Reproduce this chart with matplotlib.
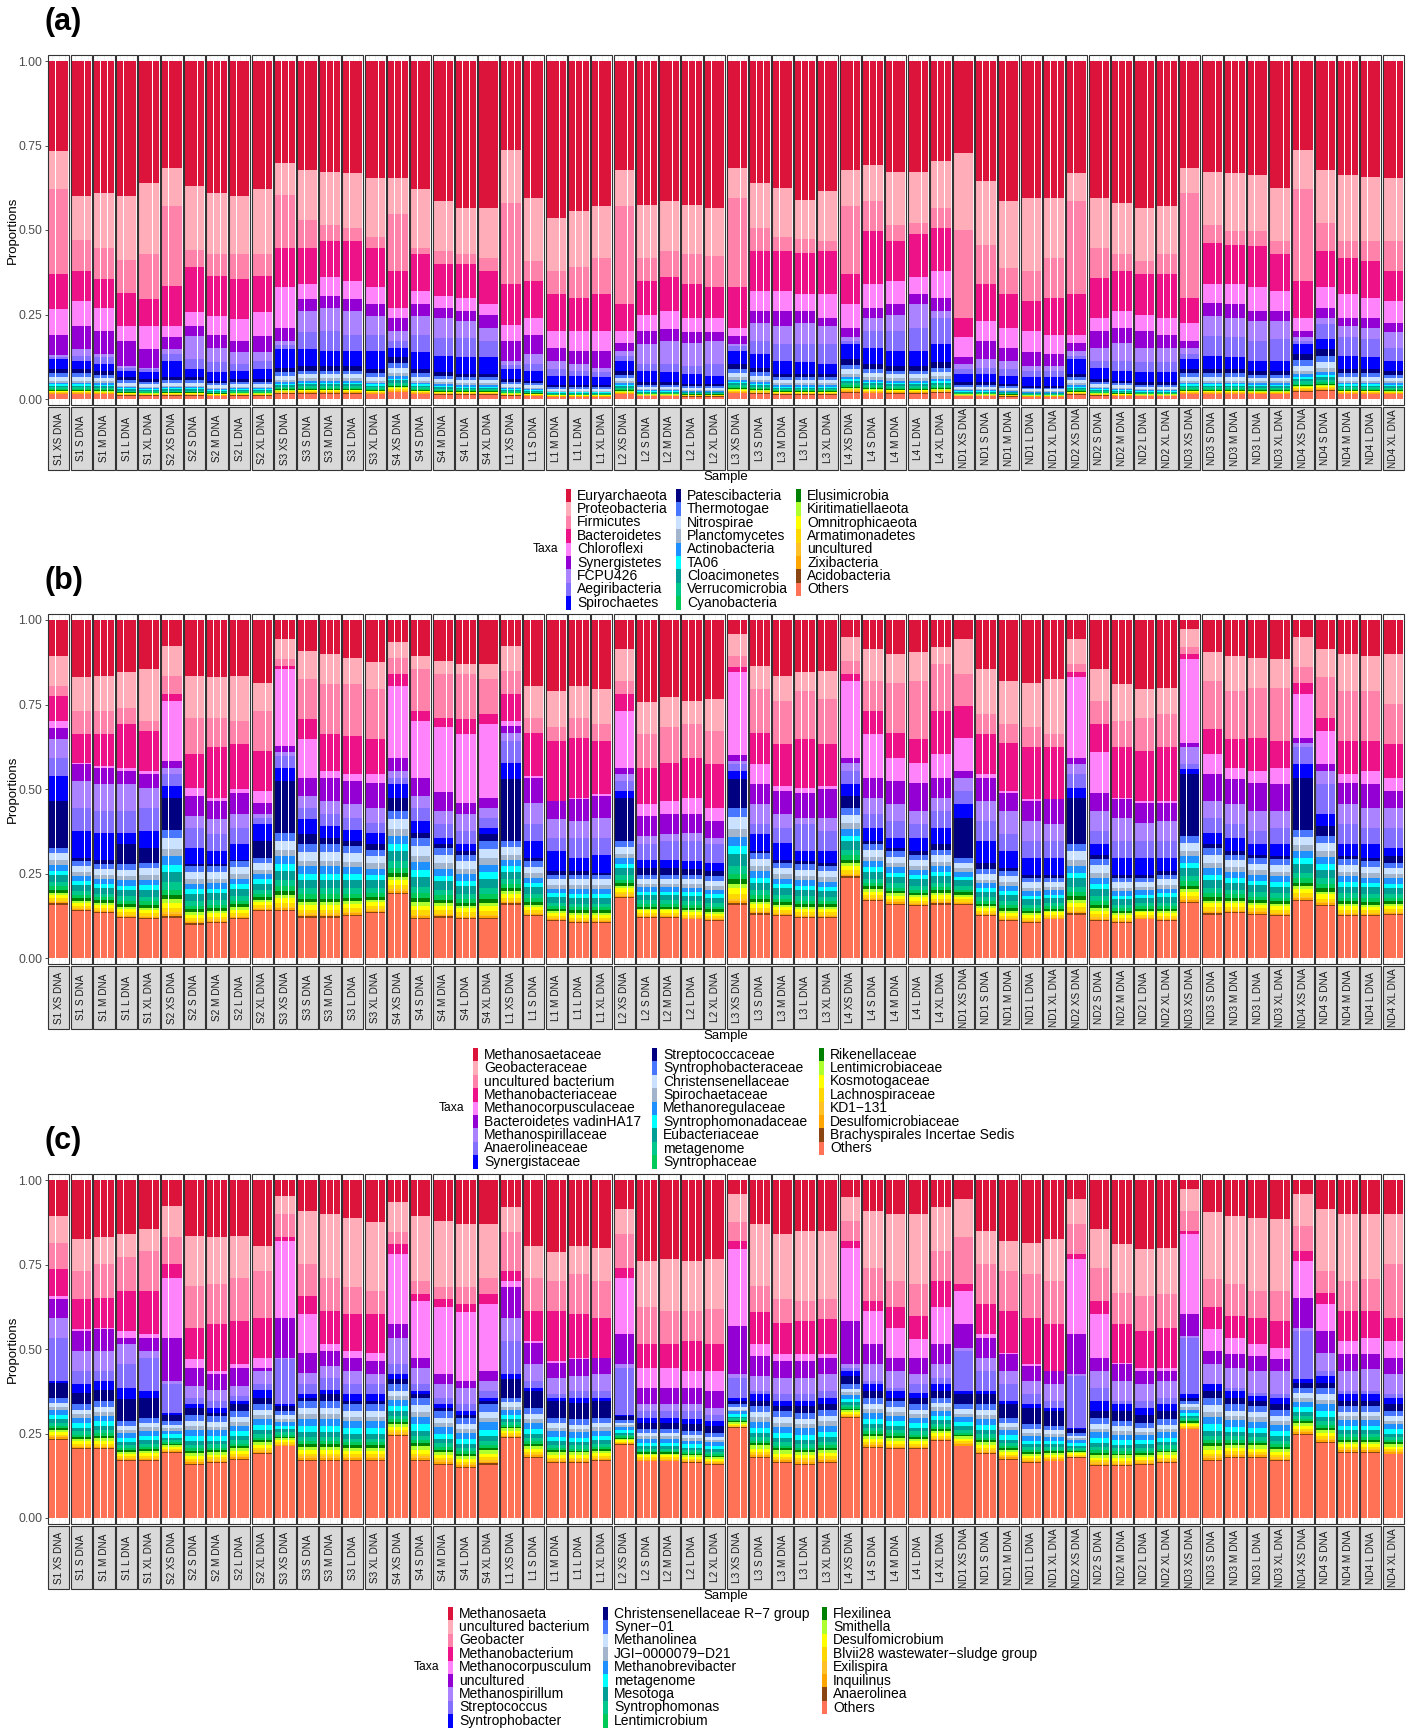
from __future__ import annotations

import matplotlib
import numpy as np
from matplotlib import pyplot as plt
from matplotlib.patches import Rectangle

matplotlib.use("Agg")
plt.rcParams["font.family"] = ["Liberation Sans", "DejaVu Sans"]

FIG_W, FIG_H = 1414, 1732

SITES = ["S1", "S2", "S3", "S4", "L1", "L2", "L3", "L4", "ND1", "ND2", "ND3", "ND4"]
SIZES = ["XS", "S", "M", "L", "XL"]
SAMPLES = [f"{site} {size} DNA" for site in SITES for size in SIZES]

TAXA_COLOURS = [
    "#DC143C", "#FFAEB9", "#FF82AB", "#EE1289", "#FF83FA", "#9400D3", "#AB82FF", "#8470FF", "#0000FF",
    "#000080", "#4876FF", "#CAE1FF", "#A2B5CD", "#1E90FF", "#00FFFF", "#009E94", "#00C78C", "#00C957",
    "#008000", "#ADFF2F", "#FFFF00", "#FFD700", "#FFC125", "#FFA500", "#8B4513", "#FF7256",
]

PHYLUM_TAXA = [
    "Euryarchaeota", "Proteobacteria", "Firmicutes", "Bacteroidetes", "Chloroflexi", "Synergistetes",
    "FCPU426", "Aegiribacteria", "Spirochaetes", "Patescibacteria", "Thermotogae", "Nitrospirae",
    "Planctomycetes", "Actinobacteria", "TA06", "Cloacimonetes", "Verrucomicrobia", "Cyanobacteria",
    "Elusimicrobia", "Kiritimatiellaeota", "Omnitrophicaeota", "Armatimonadetes", "uncultured",
    "Zixibacteria", "Acidobacteria", "Others",
]
FAMILY_TAXA = [
    "Methanosaetaceae", "Geobacteraceae", "uncultured bacterium", "Methanobacteriaceae",
    "Methanocorpusculaceae", "Bacteroidetes vadinHA17", "Methanospirillaceae", "Anaerolineaceae",
    "Synergistaceae", "Streptococcaceae", "Syntrophobacteraceae", "Christensenellaceae",
    "Spirochaetaceae", "Methanoregulaceae", "Syntrophomonadaceae", "Eubacteriaceae", "metagenome",
    "Syntrophaceae", "Rikenellaceae", "Lentimicrobiaceae", "Kosmotogaceae", "Lachnospiraceae",
    "KD1\u2212131", "Desulfomicrobiaceae", "Brachyspirales Incertae Sedis", "Others",
]
GENUS_TAXA = [
    "Methanosaeta", "uncultured bacterium", "Geobacter", "Methanobacterium", "Methanocorpusculum",
    "uncultured", "Methanospirillum", "Streptococcus", "Syntrophobacter",
    "Christensenellaceae R\u22127 group", "Syner\u221201", "Methanolinea", "JGI\u22120000079\u2212D21",
    "Methanobrevibacter", "metagenome", "Mesotoga", "Syntrophomonas", "Lentimicrobium", "Flexilinea",
    "Smithella", "Desulfomicrobium", "Blvii28 wastewater\u2212sludge group", "Exilispira", "Inquilinus",
    "Anaerolinea", "Others",
]

# Phylum level: share of the bar lying below each leading taxon (one value per sample)
phy_below_euryarchaeota = [
    .735, .600, .610, .600, .640, .683, .630, .610, .600, .620,
    .698, .678, .673, .670, .654, .654, .620, .585, .565, .565,
    .737, .595, .536, .556, .570, .678, .575, .585, .575, .565,
    .683, .640, .624, .590, .615, .678, .693, .673, .673, .703,
    .728, .644, .585, .595, .595, .668, .595, .580, .565, .570,
    .683, .673, .668, .663, .624, .737, .678, .663, .658, .654]
phy_below_proteobacteria = [
    .620, .470, .447, .410, .430, .570, .440, .430, .430, .430,
    .605, .530, .516, .506, .480, .546, .447, .437, .428, .418,
    .580, .408, .380, .390, .418, .570, .418, .437, .428, .423,
    .595, .506, .480, .472, .467, .570, .585, .516, .520, .565,
    .500, .457, .388, .378, .418, .585, .447, .428, .408, .428,
    .610, .516, .497, .497, .467, .620, .520, .467, .467, .467]
phy_below_firmicutes = [
    .370, .380, .354, .315, .295, .334, .390, .364, .354, .364,
    .447, .447, .467, .467, .447, .380, .428, .400, .398, .380,
    .340, .350, .310, .300, .310, .280, .350, .360, .340, .330,
    .330, .437, .437, .433, .437, .370, .497, .467, .487, .506,
    .240, .340, .310, .290, .300, .310, .359, .380, .369, .369,
    .300, .462, .457, .452, .428, .350, .437, .418, .408, .380]
phy_below_bacteroidetes = [
    .265, .290, .270, .216, .216, .216, .256, .246, .236, .256,
    .330, .340, .360, .350, .330, .270, .320, .305, .300, .280,
    .220, .240, .200, .200, .200, .200, .250, .260, .240, .240,
    .210, .320, .320, .310, .310, .280, .340, .350, .360, .380,
    .182, .230, .211, .200, .190, .190, .240, .260, .250, .240,
    .226, .340, .340, .330, .320, .240, .330, .310, .300, .290]
phy_below_chloroflexi = [
    .190, .215, .200, .172, .147, .182, .216, .190, .172, .187,
    .210, .295, .305, .295, .280, .240, .280, .270, .260, .250,
    .172, .190, .152, .143, .143, .167, .200, .206, .197, .197,
    .187, .260, .260, .260, .240, .210, .270, .280, .310, .300,
    .123, .172, .152, .138, .133, .167, .200, .211, .200, .190,
    .172, .285, .280, .260, .260, .200, .270, .240, .240, .226]
phy_below_synergistetes = [
    .130, .147, .133, .098, .093, .147, .187, .150, .138, .138,
    .172, .260, .270, .260, .246, .200, .246, .240, .230, .210,
    .113, .133, .113, .103, .093, .143, .162, .172, .167, .172,
    .162, .226, .216, .226, .216, .182, .240, .250, .280, .260,
    .103, .118, .113, .098, .098, .143, .152, .167, .152, .152,
    .152, .246, .240, .230, .230, .182, .240, .216, .211, .197]
phy_below_fcpu426 = [
    .125, .128, .123, .093, .088, .133, .118, .108, .103, .113,
    .160, .197, .200, .190, .190, .172, .190, .180, .180, .172,
    .100, .103, .088, .084, .079, .128, .103, .103, .098, .103,
    .157, .172, .162, .162, .162, .172, .200, .200, .210, .240,
    .088, .093, .088, .084, .084, .128, .113, .113, .108, .108,
    .133, .187, .182, .172, .177, .172, .221, .182, .177, .152]
phy_below_aegiribacteria = [
    .118, .113, .103, .084, .079, .113, .088, .079, .084, .088,
    .147, .147, .143, .143, .143, .152, .138, .128, .123, .123,
    .088, .084, .069, .069, .064, .113, .084, .079, .074, .069,
    .143, .133, .113, .108, .103, .162, .152, .143, .143, .162,
    .074, .074, .069, .064, .064, .118, .093, .084, .079, .079,
    .118, .128, .123, .113, .113, .162, .177, .128, .123, .113]
phy_below_spirochaetes = [
    .088, .088, .084, .064, .059, .064, .064, .054, .059, .059,
    .093, .098, .098, .098, .088, .123, .088, .079, .074, .074,
    .059, .054, .040, .040, .040, .084, .049, .049, .044, .044,
    .103, .093, .074, .074, .074, .118, .103, .098, .098, .108,
    .049, .049, .044, .039, .039, .074, .059, .054, .049, .049,
    .088, .088, .088, .084, .084, .133, .147, .088, .088, .084]
# split of the remaining low-abundance phyla (Patescibacteria ... Others)
phy_minor_share = [.14, .12, .12, .07, .06, .04, .06, .05, .03, .03, .02, .02, .02, .02, .02, .02, .16]

# Family level
fam_below_methanosaetaceae = [
    .894, .830, .835, .845, .855, .924, .835, .830, .835, .815,
    .944, .909, .899, .889, .875, .934, .894, .880, .870, .870,
    .924, .805, .790, .805, .795, .914, .756, .771, .761, .766,
    .958, .865, .835, .845, .850, .949, .914, .899, .904, .919,
    .944, .855, .820, .815, .825, .944, .855, .810, .795, .800,
    .973, .904, .894, .889, .884, .949, .914, .899, .894, .899]
fam_below_geobacteraceae = [
    .805, .731, .731, .741, .702, .835, .711, .711, .702, .731,
    .884, .825, .810, .810, .795, .889, .855, .840, .840, .825,
    .850, .711, .682, .711, .692, .820, .662, .682, .692, .672,
    .894, .795, .761, .790, .766, .879, .820, .815, .820, .870,
    .840, .721, .692, .682, .662, .870, .761, .702, .711, .721,
    .919, .820, .790, .800, .800, .860, .830, .790, .790, .751]
fam_below_uncultured_bacterium = [
    .776, .662, .662, .692, .672, .781, .603, .623, .632, .613,
    .865, .707, .662, .657, .647, .840, .731, .711, .707, .721,
    .781, .667, .642, .652, .642, .781, .563, .578, .593, .573,
    .860, .667, .632, .647, .632, .840, .731, .667, .647, .731,
    .746, .662, .637, .623, .623, .845, .692, .623, .613, .623,
    .900, .677, .647, .652, .642, .815, .711, .642, .642, .632]
fam_below_methanobacteriaceae = [
    .700, .578, .568, .563, .553, .761, .504, .474, .499, .494,
    .855, .647, .553, .543, .543, .805, .700, .682, .662, .692,
    .700, .539, .464, .474, .484, .731, .455, .464, .474, .445,
    .845, .573, .509, .504, .509, .820, .662, .593, .578, .603,
    .652, .543, .494, .469, .469, .830, .608, .474, .464, .464,
    .884, .603, .563, .553, .563, .780, .672, .543, .553, .534]
fam_below_methanocorpusculaceae = [
    .680, .573, .563, .553, .543, .583, .479, .464, .489, .460,
    .627, .534, .534, .524, .519, .593, .534, .490, .460, .474,
    .687, .534, .464, .469, .479, .563, .420, .425, .425, .405,
    .600, .514, .494, .489, .499, .593, .534, .524, .519, .534,
    .553, .534, .489, .464, .469, .593, .489, .469, .459, .459,
    .637, .543, .529, .519, .514, .652, .573, .519, .514, .494]
fam_below_vadinha17 = [
    .647, .524, .514, .514, .504, .563, .420, .410, .425, .425,
    .608, .479, .464, .455, .445, .553, .479, .435, .425, .445,
    .667, .460, .410, .405, .415, .544, .361, .366, .371, .356,
    .583, .455, .425, .415, .415, .578, .474, .455, .435, .474,
    .534, .464, .435, .405, .395, .573, .435, .415, .400, .405,
    .623, .464, .455, .435, .435, .637, .553, .455, .445, .445]
fam_below_methanospirillaceae = [
    .593, .445, .435, .435, .445, .544, .385, .366, .385, .415,
    .598, .445, .425, .415, .400, .534, .445, .395, .375, .415,
    .642, .395, .356, .356, .356, .524, .336, .346, .346, .336,
    .573, .395, .385, .395, .375, .553, .425, .405, .395, .435,
    .494, .405, .366, .346, .346, .544, .375, .346, .346, .346,
    .573, .415, .395, .375, .385, .623, .514, .395, .385, .385]
fam_below_anaerolineaceae = [
    .539, .375, .370, .370, .375, .509, .326, .316, .336, .395,
    .563, .410, .390, .380, .370, .514, .405, .356, .336, .385,
    .578, .346, .316, .296, .306, .494, .291, .291, .287, .282,
    .553, .366, .341, .316, .316, .514, .385, .356, .356, .385,
    .455, .346, .316, .296, .296, .504, .336, .296, .296, .296,
    .558, .371, .356, .336, .336, .573, .425, .336, .336, .326]
fam_below_synergistaceae = [
    .464, .296, .291, .336, .326, .474, .277, .277, .291, .346,
    .524, .366, .356, .346, .336, .474, .370, .336, .316, .366,
    .529, .296, .257, .257, .252, .474, .267, .267, .262, .257,
    .529, .316, .291, .287, .282, .479, .346, .326, .316, .336,
    .415, .282, .267, .247, .247, .474, .306, .247, .247, .257,
    .543, .336, .316, .306, .301, .534, .390, .301, .296, .301]
fam_below_streptococcaceae = [
    .326, .287, .277, .277, .282, .380, .272, .272, .287, .296,
    .370, .336, .336, .331, .321, .435, .356, .326, .306, .346,
    .346, .287, .247, .247, .247, .346, .247, .247, .247, .242,
    .445, .311, .282, .277, .272, .445, .336, .316, .306, .321,
    .296, .262, .257, .237, .237, .336, .292, .237, .237, .247,
    .361, .326, .306, .296, .292, .380, .361, .292, .287, .282]
fam_others = [
    .158, .138, .133, .119, .114, .119, .099, .104, .114, .138,
    .138, .119, .119, .124, .133, .188, .114, .119, .114, .114,
    .158, .124, .109, .104, .104, .178, .119, .119, .114, .109,
    .158, .128, .124, .119, .119, .237, .168, .158, .153, .158,
    .158, .124, .109, .104, .114, .128, .109, .104, .114, .109,
    .163, .128, .133, .128, .124, .168, .153, .124, .124, .128]
fam_minor_share = [.10, .12, .08, .10, .08, .12, .08, .06, .05, .04, .06, .05, .02, .02, .02]

# Genus level
gen_below_methanosaeta = [
    .894, .825, .830, .840, .855, .924, .835, .830, .835, .805,
    .954, .909, .899, .889, .875, .934, .894, .880, .870, .870,
    .919, .805, .786, .805, .800, .914, .761, .766, .761, .766,
    .958, .870, .840, .850, .850, .949, .909, .899, .899, .919,
    .944, .850, .820, .815, .825, .944, .855, .810, .795, .800,
    .973, .904, .894, .889, .884, .958, .914, .899, .899, .899]
gen_below_uncultured_bacterium = [
    .815, .731, .751, .771, .790, .830, .685, .692, .711, .731,
    .899, .751, .711, .682, .672, .845, .702, .682, .682, .711,
    .845, .711, .702, .721, .702, .840, .623, .613, .613, .618,
    .875, .687, .647, .642, .647, .879, .741, .702, .692, .790,
    .830, .751, .731, .721, .702, .870, .741, .667, .657, .662,
    .909, .707, .692, .672, .672, .865, .731, .702, .707, .751]
gen_below_geobacter = [
    .736, .647, .652, .672, .672, .751, .563, .573, .583, .593,
    .830, .657, .613, .603, .603, .810, .662, .647, .632, .662,
    .731, .613, .613, .603, .593, .741, .514, .514, .524, .514,
    .820, .608, .578, .583, .588, .820, .642, .623, .598, .702,
    .692, .632, .613, .593, .573, .781, .642, .573, .553, .563,
    .850, .623, .598, .593, .583, .791, .667, .613, .613, .593]
gen_below_methanobacterium = [
    .657, .558, .563, .553, .543, .711, .469, .435, .455, .474,
    .820, .603, .514, .494, .489, .781, .642, .623, .608, .632,
    .700, .524, .464, .474, .474, .711, .445, .445, .435, .435,
    .795, .514, .484, .484, .484, .800, .613, .563, .529, .623,
    .672, .543, .489, .455, .435, .766, .603, .460, .445, .445,
    .840, .558, .534, .514, .504, .761, .632, .524, .534, .524]
gen_below_methanocorpusculum = [
    .647, .553, .558, .534, .534, .534, .445, .425, .445, .445,
    .593, .489, .494, .474, .464, .573, .474, .425, .405, .435,
    .682, .519, .459, .469, .474, .543, .385, .385, .385, .376,
    .568, .479, .464, .464, .474, .583, .514, .474, .474, .514,
    .573, .534, .484, .450, .435, .543, .474, .455, .435, .435,
    .603, .494, .484, .479, .469, .652, .553, .484, .484, .474]
gen_below_uncultured = [
    .593, .494, .494, .514, .494, .405, .390, .380, .390, .435,
    .474, .430, .450, .435, .425, .534, .445, .395, .385, .405,
    .593, .455, .415, .420, .425, .455, .336, .336, .336, .326,
    .425, .420, .415, .415, .425, .455, .455, .435, .425, .455,
    .504, .474, .435, .405, .395, .425, .435, .405, .395, .405,
    .539, .455, .445, .435, .435, .563, .489, .435, .440, .425]
gen_below_methanospirillum = [
    .534, .435, .435, .455, .474, .395, .356, .346, .361, .395,
    .470, .395, .415, .395, .395, .455, .395, .356, .336, .375,
    .524, .405, .366, .376, .376, .445, .316, .316, .316, .306,
    .415, .376, .366, .366, .376, .445, .405, .385, .395, .415,
    .494, .435, .395, .366, .346, .420, .385, .346, .346, .356,
    .534, .395, .385, .371, .366, .553, .435, .376, .376, .366]
gen_below_streptococcus = [
    .405, .395, .405, .385, .375, .311, .336, .326, .346, .380,
    .336, .366, .380, .366, .366, .425, .375, .336, .316, .356,
    .425, .385, .356, .356, .356, .306, .296, .296, .292, .287,
    .356, .366, .346, .346, .356, .435, .395, .375, .370, .395,
    .375, .375, .346, .336, .326, .267, .346, .336, .326, .336,
    .366, .395, .375, .361, .356, .410, .420, .366, .366, .356]
gen_below_syntrophobacter = [
    .400, .371, .380, .351, .356, .306, .326, .311, .336, .356,
    .331, .356, .366, .346, .346, .410, .366, .326, .306, .346,
    .410, .375, .346, .341, .346, .301, .282, .282, .277, .272,
    .346, .346, .331, .331, .336, .420, .375, .356, .356, .375,
    .366, .366, .336, .326, .316, .262, .316, .316, .306, .316,
    .356, .375, .356, .346, .336, .400, .400, .346, .346, .336]
gen_below_christensenellaceae = [
    .356, .336, .346, .287, .296, .287, .306, .301, .316, .336,
    .316, .346, .346, .336, .336, .395, .356, .316, .296, .336,
    .356, .326, .296, .292, .296, .291, .262, .262, .257, .252,
    .336, .331, .316, .311, .321, .395, .356, .346, .336, .356,
    .336, .336, .296, .277, .272, .252, .296, .287, .282, .292,
    .346, .356, .336, .331, .321, .385, .385, .331, .331, .316]
gen_others = [
    .232, .203, .203, .168, .168, .193, .158, .163, .173, .188,
    .212, .168, .168, .168, .168, .242, .168, .158, .148, .158,
    .237, .178, .163, .163, .168, .217, .168, .168, .163, .158,
    .267, .178, .163, .158, .163, .296, .208, .203, .203, .227,
    .212, .188, .173, .163, .168, .178, .153, .153, .158, .163,
    .262, .168, .178, .178, .168, .247, .222, .193, .193, .188]
gen_minor_share = [.12, .10, .08, .12, .10, .08, .07, .05, .04, .06, .06, .04, .03, .03, .02]

# layout (pixels of the saved figure)
LEFT_PX = 48
PANEL_W_PX = 1356
PAD_PX = 6
UNIT_PX = 338
FACET_W = 3.2
GAP = 0.18
PITCH = FACET_W + GAP
N_FACETS = len(SAMPLES)
X_MAX = N_FACETS * PITCH - GAP
ROW_PX = 13.4


def fx(px: float) -> float:
    return px / FIG_W


def fy(py: float) -> float:
    return 1.0 - py / FIG_H


def _stack(edges, share, others=None) -> np.ndarray:
    upper = np.vstack([np.ones(N_FACETS)] + [np.asarray(e, dtype=float) for e in edges])
    lead = np.clip(upper[:-1] - upper[1:], 0.0, None)
    floor = upper[-1]
    share = np.asarray(share, dtype=float)
    if others is None:
        rest = np.outer(share, floor)
    else:
        others = np.asarray(others, dtype=float)
        rest = np.vstack([np.outer(share, floor - others), others])
    return np.vstack([lead, rest])


def _panel(fig, top_px: float, tag: str, values: np.ndarray) -> None:
    height_px = 2 * PAD_PX + UNIT_PX
    ax = fig.add_axes([fx(LEFT_PX), fy(top_px + height_px), PANEL_W_PX / FIG_W, height_px / FIG_H])
    pad = PAD_PX / UNIT_PX
    ax.set_xlim(0, X_MAX)
    ax.set_ylim(-pad, 1 + pad)

    lefts = np.arange(N_FACETS) * PITCH
    centres = (lefts[:, None] + 0.6 + np.arange(3)[None, :]).ravel()
    ax.vlines(centres, -pad, 1 + pad, colors="#EBEBEB", linewidth=0.5, zorder=0)

    reps = np.repeat(values, 3, axis=1)
    bottoms = np.cumsum(reps[::-1], axis=0)[::-1] - reps
    for i, colour in enumerate(TAXA_COLOURS):
        ax.bar(centres, reps[i], width=0.9, bottom=bottoms[i], color=colour, linewidth=0, zorder=2)

    strip_top = -pad - 2 / UNIT_PX
    strip_h = 63 / UNIT_PX
    for k, left in enumerate(lefts):
        ax.add_patch(Rectangle((left, -pad), FACET_W, 1 + 2 * pad, fill=False, edgecolor="#333333",
                               linewidth=0.8, zorder=4, clip_on=False))
        ax.add_patch(Rectangle((left, strip_top - strip_h), FACET_W, strip_h, facecolor="#D9D9D9",
                               edgecolor="#333333", linewidth=0.8, zorder=4, clip_on=False))
        ax.text(left + FACET_W / 2, strip_top - strip_h / 2, SAMPLES[k], rotation=90, ha="center",
                va="center", fontsize=7.2, color="#1A1A1A", clip_on=False, zorder=5)

    ticks = [0.0, 0.25, 0.5, 0.75, 1.0]
    ax.set_yticks(ticks)
    ax.set_yticklabels([f"{t:.2f}" for t in ticks])
    ax.set_xticks([])
    for spine in ax.spines.values():
        spine.set_visible(False)
    ax.tick_params(axis="y", length=2.5, width=0.6, color="#333333", labelsize=8.8,
                   labelcolor="#4D4D4D", pad=1.5)

    fig.text(fx(45), fy(top_px - 33), tag, fontsize=22, fontweight="bold", ha="left", va="center")
    fig.text(fx(13), fy(top_px + height_px / 2), "Proportions", rotation=90, fontsize=9.5,
             ha="center", va="center")
    fig.text(fx(LEFT_PX + PANEL_W_PX / 2), fy(top_px + 422), "Sample", fontsize=9.5,
             ha="center", va="center")


def _legend(fig, top_px: float, taxa, key_cols_px, title_x_px: float) -> None:
    for i, name in enumerate(taxa):
        col, row = divmod(i, 9)
        x = key_cols_px[col]
        y = top_px + row * ROW_PX
        fig.patches.append(Rectangle((fx(x), fy(y + ROW_PX)), 5 / FIG_W, ROW_PX / FIG_H,
                                     transform=fig.transFigure, facecolor=TAXA_COLOURS[i],
                                     edgecolor="none"))
        fig.text(fx(x + 11), fy(y + ROW_PX / 2), name, fontsize=10, ha="left", va="center")
    fig.text(fx(title_x_px), fy(top_px + 4.5 * ROW_PX), "Taxa", fontsize=8.7, ha="center", va="center")


def main() -> None:
    phylum = _stack(
        [phy_below_euryarchaeota, phy_below_proteobacteria, phy_below_firmicutes, phy_below_bacteroidetes,
         phy_below_chloroflexi, phy_below_synergistetes, phy_below_fcpu426, phy_below_aegiribacteria,
         phy_below_spirochaetes],
        phy_minor_share,
    )
    family = _stack(
        [fam_below_methanosaetaceae, fam_below_geobacteraceae, fam_below_uncultured_bacterium,
         fam_below_methanobacteriaceae, fam_below_methanocorpusculaceae, fam_below_vadinha17,
         fam_below_methanospirillaceae, fam_below_anaerolineaceae, fam_below_synergistaceae,
         fam_below_streptococcaceae],
        fam_minor_share,
        fam_others,
    )
    genus = _stack(
        [gen_below_methanosaeta, gen_below_uncultured_bacterium, gen_below_geobacter,
         gen_below_methanobacterium, gen_below_methanocorpusculum, gen_below_uncultured,
         gen_below_methanospirillum, gen_below_streptococcus, gen_below_syntrophobacter,
         gen_below_christensenellaceae],
        gen_minor_share,
        gen_others,
    )

    fig = plt.figure(figsize=(FIG_W / 100, FIG_H / 100), dpi=100)
    _panel(fig, 55, "(a)", phylum)
    _legend(fig, 489, PHYLUM_TAXA, (566, 676, 796), 546)
    _panel(fig, 614, "(b)", family)
    _legend(fig, 1048, FAMILY_TAXA, (473, 652, 819), 452)
    _panel(fig, 1174, "(c)", genus)
    _legend(fig, 1607, GENUS_TAXA, (448, 603, 822), 427)
    fig.savefig("out.png", dpi=100)
    plt.close(fig)


if __name__ == "__main__":
    main()
